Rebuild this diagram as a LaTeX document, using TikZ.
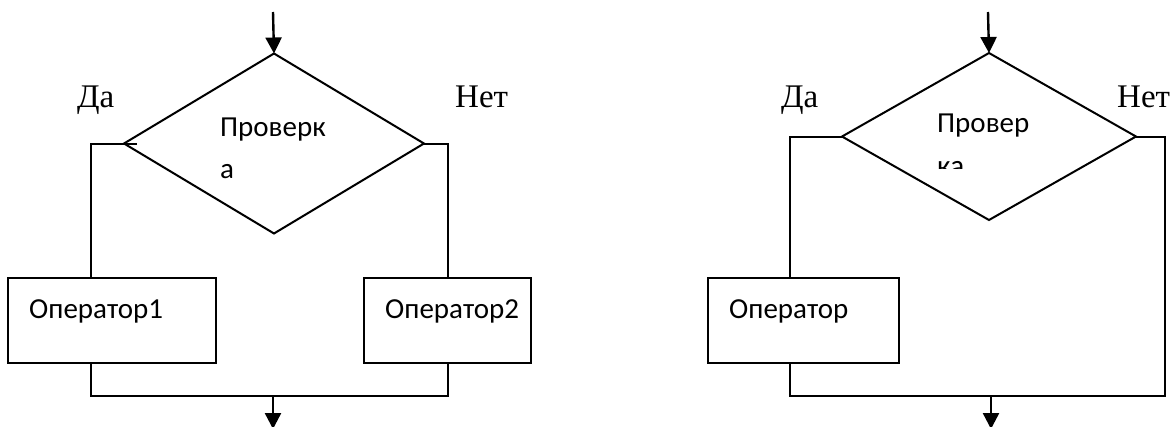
\documentclass[tikz,border=0pt]{standalone}
\usepackage{fontspec}
\setmainfont{Liberation Serif}
\newfontfamily\calfont{Carlito}
\usetikzlibrary{arrows.meta,shapes.geometric}
\tikzset{
  ln/.style={line width=2pt, line join=miter},
  arr/.style={line width=2.4pt, -{Triangle[length=16pt,width=16pt]}},
  dia/.style={draw, ln, diamond, inner sep=0pt, outer sep=0pt},
  opbox/.style={draw, ln, rectangle, inner sep=0pt, outer sep=0pt, minimum height=85pt},
  lbl/.style={font=\fontsize{33pt}{38pt}\selectfont, inner sep=0pt, anchor=base west},
  txt/.style={font=\calfont\fontsize{29pt}{34pt}\selectfont, inner sep=0pt, anchor=base west}
}
\begin{document}
\begin{tikzpicture}[x=1pt,y=-1pt]
\useasboundingbox (0,0) rectangle (1173,426);
% ---------- left diagram ----------
\node[dia, minimum width=300pt, minimum height=180pt] (d1) at (274,143.5) {};
\node[opbox, minimum width=208pt] (b1) at (112,320.5) {};
\node[opbox, minimum width=167pt] (b2) at (447.5,320.5) {};
\coordinate (s1) at (273,12);
\coordinate (j1) at (91,396);
\coordinate (j2) at (448,396);
\coordinate (m1) at (273,396);
\coordinate (e1) at (273,429);
\draw[arr] (s1) -- (d1.north);
\draw[ln] ([xshift=13pt]d1.west) -- (d1.west -| j1) -- (b1.north -| j1);
\draw[ln] (d1.east) -- (d1.east -| j2) -- (b2.north -| j2);
\draw[ln] (b1.south -| j1) -- (j1) -- (j2) -- (b2.south -| j2);
\draw[arr] (m1) -- (e1);
\node[lbl] (da1) at (77,107) {Да};
\node[lbl] (net1) at (455,107) {Нет};
\node[txt] (t1a) at (220,136) {Проверк};
\node[txt] (t1b) at (220,178) {а};
\node[txt] (o1) at (29,318) {Оператор1};
\node[txt] (o2) at (385,318) {Оператор2};
% ---------- right diagram ----------
\node[dia, minimum width=294pt, minimum height=167pt] (d2) at (989,136.5) {};
\node[opbox, minimum width=191pt] (b3) at (803.5,320.5) {};
\coordinate (s2) at (988,12);
\coordinate (j3) at (790,396);
\coordinate (j4) at (1165,396);
\coordinate (m2) at (991,396);
\coordinate (e2) at (991,429);
\draw[arr] (s2) -- (d2.north);
\draw[ln] (d2.west) -- (d2.west -| j3) -- (b3.north -| j3);
\draw[ln] (b3.south -| j3) -- (j3) -- (j4) -- (d2.east -| j4) -- (d2.east);
\draw[arr] (m2) -- (e2);
\node[lbl] (da2) at (781,107) {Да};
\node[lbl] (net2) at (1117,107) {Нет};
\node[txt] (t2a) at (937,132) {Провер};
\begin{scope}
  \clip (900,140) rectangle (1080,168);
  \node[txt] (t2b) at (937,175) {ка};
\end{scope}
\node[txt] (o3) at (729,318) {Оператор};
\end{tikzpicture}
\end{document}
